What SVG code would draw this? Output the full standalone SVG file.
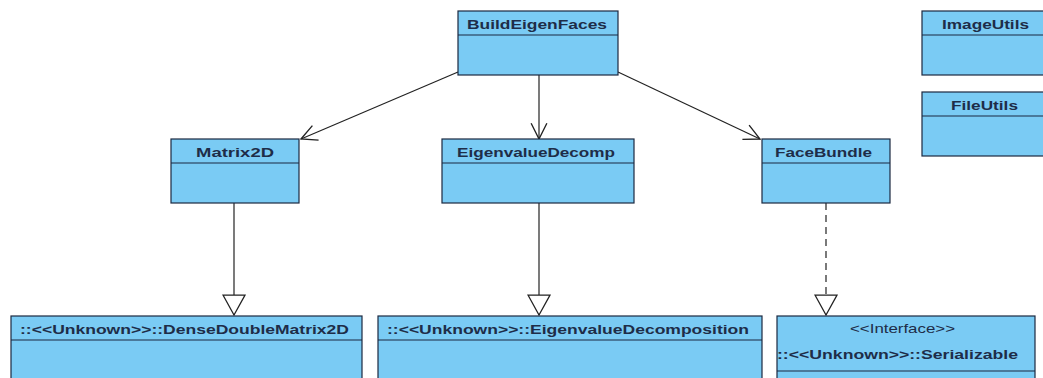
<svg xmlns="http://www.w3.org/2000/svg" width="1043" height="378" viewBox="0 0 1043 378">
<style>
.box{fill:#7ACBF4;stroke:#1B2940;stroke-width:1.2}
.div{stroke:#1B2940;stroke-width:1.2}
.t{font-family:"Liberation Sans",Arial,sans-serif;font-size:13px;font-weight:bold;fill:#1E2D48;text-anchor:middle}
.n{font-family:"Liberation Sans",Arial,sans-serif;font-size:13px;fill:#1E2D48;text-anchor:middle}
.ln{stroke:#222;stroke-width:1.2;fill:none}
.dash{stroke-dasharray:7,5}
</style>
<defs>
<marker id="open" markerUnits="userSpaceOnUse" markerWidth="18" markerHeight="18" refX="15" refY="8" orient="auto" viewBox="0 0 16 16">
<path d="M1,1 L15,8 L1,15" fill="none" stroke="#222" stroke-width="1.2"/>
</marker>
<marker id="tri" markerUnits="userSpaceOnUse" markerWidth="22" markerHeight="24" refX="20" refY="11" orient="auto" viewBox="0 0 21 22">
<path d="M1,0.5 L20,11 L1,21.5 Z" fill="#fff" stroke="#222" stroke-width="1.2"/>
</marker>
</defs>
<rect width="1043" height="378" fill="#fff"/>
<g id="connectors">
<line class="ln" x1="458" y1="72" x2="301" y2="139" marker-end="url(#open)"/>
<line class="ln" x1="539" y1="75" x2="539" y2="139" marker-end="url(#open)"/>
<line class="ln" x1="618" y1="72" x2="760" y2="139" marker-end="url(#open)"/>
<line class="ln" x1="234" y1="203" x2="234" y2="315" marker-end="url(#tri)"/>
<line class="ln" x1="539" y1="203" x2="539" y2="315" marker-end="url(#tri)"/>
<line class="ln dash" x1="826" y1="203" x2="826" y2="315" marker-end="url(#tri)"/>
</g>
<g id="BuildEigenFaces">
<rect class="box" x="458" y="11" width="160" height="64"/>
<line class="div" x1="458" y1="35" x2="618" y2="35"/>
<text class="t" x="537" y="29" textLength="140" lengthAdjust="spacingAndGlyphs">BuildEigenFaces</text>
</g>
<g id="ImageUtils">
<rect class="box" x="922" y="11" width="130" height="64"/>
<line class="div" x1="922" y1="35" x2="1052" y2="35"/>
<text class="t" x="985.5" y="29" textLength="87" lengthAdjust="spacingAndGlyphs">ImageUtils</text>
</g>
<g id="FileUtils">
<rect class="box" x="922" y="92" width="130" height="64"/>
<line class="div" x1="922" y1="116" x2="1052" y2="116"/>
<text class="t" x="984.5" y="110" textLength="67" lengthAdjust="spacingAndGlyphs">FileUtils</text>
</g>
<g id="Matrix2D">
<rect class="box" x="171" y="139" width="128" height="64"/>
<line class="div" x1="171" y1="163" x2="299" y2="163"/>
<text class="t" x="235" y="157" textLength="78" lengthAdjust="spacingAndGlyphs">Matrix2D</text>
</g>
<g id="EigenvalueDecomp">
<rect class="box" x="442" y="139" width="192" height="64"/>
<line class="div" x1="442" y1="163" x2="634" y2="163"/>
<text class="t" x="536" y="157" textLength="158" lengthAdjust="spacingAndGlyphs">EigenvalueDecomp</text>
</g>
<g id="FaceBundle">
<rect class="box" x="762" y="139" width="128" height="64"/>
<line class="div" x1="762" y1="163" x2="890" y2="163"/>
<text class="t" x="823.5" y="157" textLength="97" lengthAdjust="spacingAndGlyphs">FaceBundle</text>
</g>
<g id="DenseDoubleMatrix2D">
<rect class="box" x="11" y="316" width="351" height="80"/>
<line class="div" x1="11" y1="340" x2="362" y2="340"/>
<text class="t" x="184.5" y="334" textLength="329" lengthAdjust="spacingAndGlyphs">::&lt;&lt;Unknown&gt;&gt;::DenseDoubleMatrix2D</text>
</g>
<g id="EigenvalueDecomposition">
<rect class="box" x="378" y="316" width="384" height="80"/>
<line class="div" x1="378" y1="340" x2="762" y2="340"/>
<text class="t" x="568" y="334" textLength="362" lengthAdjust="spacingAndGlyphs">::&lt;&lt;Unknown&gt;&gt;::EigenvalueDecomposition</text>
</g>
<g id="Serializable">
<rect class="box" x="777" y="316" width="258" height="80"/>
<line class="div" x1="777" y1="371" x2="1035" y2="371"/>
<text class="n" x="902.5" y="333" textLength="105" lengthAdjust="spacingAndGlyphs">&lt;&lt;Interface&gt;&gt;</text>
<text class="t" x="897.5" y="359" textLength="241" lengthAdjust="spacingAndGlyphs">::&lt;&lt;Unknown&gt;&gt;::Serializable</text>
</g>
</svg>
